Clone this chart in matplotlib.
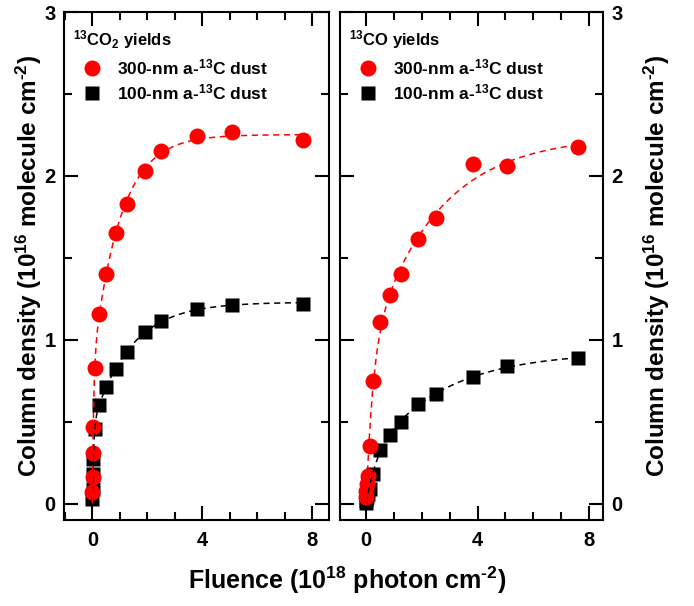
import numpy as np
import matplotlib
matplotlib.use("Agg")
import matplotlib.pyplot as plt
from matplotlib.ticker import MultipleLocator

plt.rcParams['font.family'] = ['Liberation Sans', 'DejaVu Sans']
plt.rcParams['font.weight'] = 'bold'
plt.rcParams['mathtext.default'] = 'regular'

# ---- data ----
fluence_co2 = [0.005, 0.01, 0.02, 0.03, 0.10, 0.24, 0.48, 0.85, 1.27, 1.90, 2.51, 3.79, 5.09, 7.64]
co2_300nm = [0.07, 0.16, 0.31, 0.47, 0.83, 1.16, 1.40, 1.65, 1.83, 2.03, 2.15, 2.245, 2.265, 2.22]
co2_100nm = [0.03, 0.09, 0.18, 0.27, 0.455, 0.60, 0.71, 0.82, 0.925, 1.045, 1.115, 1.185, 1.215, 1.22]

fluence_co = [0.005, 0.01, 0.03, 0.06, 0.12, 0.23, 0.50, 0.87, 1.25, 1.875, 2.52, 3.82, 5.07, 7.60]
co_300nm = [0.04, 0.08, 0.12, 0.17, 0.35, 0.75, 1.11, 1.27, 1.40, 1.615, 1.74, 2.07, 2.06, 2.175]
co_100nm = [0.005, 0.02, 0.04, 0.06, 0.09, 0.18, 0.33, 0.42, 0.50, 0.61, 0.67, 0.77, 0.84, 0.886]

panel_titles = [r'$^{13}$CO$_2$ yields', r'$^{13}$CO yields']
series_labels = [r'300-nm a-$^{13}$C dust', r'100-nm a-$^{13}$C dust']
ylabel = 'Column density (10$^{16}$ molecule cm$^{\u20102}$)'
xlabel = 'Fluence (10$^{18}$ photon cm$^{\u20102}$)'


def fit_curve(x, y, xs):
    """Least-squares two-component exponential growth fit of the data."""
    x = np.asarray(x, float)
    y = np.asarray(y, float)
    best = None
    for t1 in np.logspace(-2.5, 0.5, 70):
        for t2 in np.logspace(-0.7, 1.7, 70):
            if t2 <= t1:
                continue
            M = np.column_stack([1 - np.exp(-x / t1), 1 - np.exp(-x / t2)])
            coef, *_ = np.linalg.lstsq(M, y, rcond=None)
            r = np.sum((M @ coef - y) ** 2)
            if best is None or r < best[0]:
                best = (r, t1, t2, coef)
    _, t1, t2, coef = best
    return coef[0] * (1 - np.exp(-xs / t1)) + coef[1] * (1 - np.exp(-xs / t2))


fig = plt.figure(figsize=(6.94, 6.06), dpi=100)
axL = fig.add_axes([64 / 694, 86 / 606, 265 / 694, 508 / 606])
axR = fig.add_axes([340 / 694, 86 / 606, 263 / 694, 508 / 606])

panels = [
    (axL, fluence_co2, co2_300nm, co2_100nm, panel_titles[0], (-1.03, 8.6)),
    (axR, fluence_co, co_300nm, co_100nm, panel_titles[1], (-0.94, 8.5)),
]

for ax, fx, red, blk, title, xl in panels:
    xs = np.linspace(0, max(fx), 400)
    ax.plot(fx, blk, 's', color='black', ms=10, mec='none', zorder=2)
    ax.plot(fx, red, 'o', color='#ff0000', ms=11.5, mec='none', zorder=3)
    ax.plot(xs, fit_curve(fx, blk, xs), '--', color='black', lw=1.1, dashes=(4, 3), zorder=4)
    ax.plot(xs, fit_curve(fx, red, xs), '--', color='#ff0000', lw=1.1, dashes=(4, 3), zorder=4)

    ax.set_xlim(*xl)
    ax.set_ylim(-0.1, 3.0)
    ax.xaxis.set_major_locator(MultipleLocator(4))
    ax.xaxis.set_minor_locator(MultipleLocator(1))
    ax.yaxis.set_major_locator(MultipleLocator(1))
    ax.yaxis.set_minor_locator(MultipleLocator(0.5))
    ax.tick_params(which='both', direction='in', top=True, right=True, left=True, bottom=True,
                   width=1.5, labelsize=14.5)
    ax.tick_params(axis='x', pad=8)
    ax.tick_params(axis='y', pad=6)
    ax.tick_params(which='major', length=10)
    ax.tick_params(which='minor', length=6)
    for s in ax.spines.values():
        s.set_linewidth(1.5)

    # legend-like block
    ax.text(0.033, 0.945, title, transform=ax.transAxes, fontsize=12, fontweight='bold',
            ha='left', va='center')
    h1, = ax.plot([], [], 'o', color='#ff0000', ms=11.5, mec='none')
    h2, = ax.plot([], [], 's', color='black', ms=10, mec='none')
    ax.legend([h1, h2], series_labels, loc='upper left', bbox_to_anchor=(0.02, 0.918),
              frameon=False, handlelength=2.2, handletextpad=0.35, labelspacing=0.3,
              borderaxespad=0, borderpad=0.2,
              prop={'family': ['Liberation Sans', 'DejaVu Sans'], 'weight': 'bold', 'size': 12.5})

axL.set_ylabel(ylabel, fontsize=17.5, fontweight='bold', labelpad=0)
axR.yaxis.set_label_position('right')
axR.yaxis.tick_right()
axR.tick_params(which='both', left=True, labelleft=False, labelright=True)
axR.set_ylabel(ylabel, fontsize=17.5, fontweight='bold', labelpad=14)

fig.text(347 / 694, 1 - 580 / 606, xlabel, ha='center', va='center', fontsize=18, fontweight='bold')

fig.savefig('out.png', dpi=100)
